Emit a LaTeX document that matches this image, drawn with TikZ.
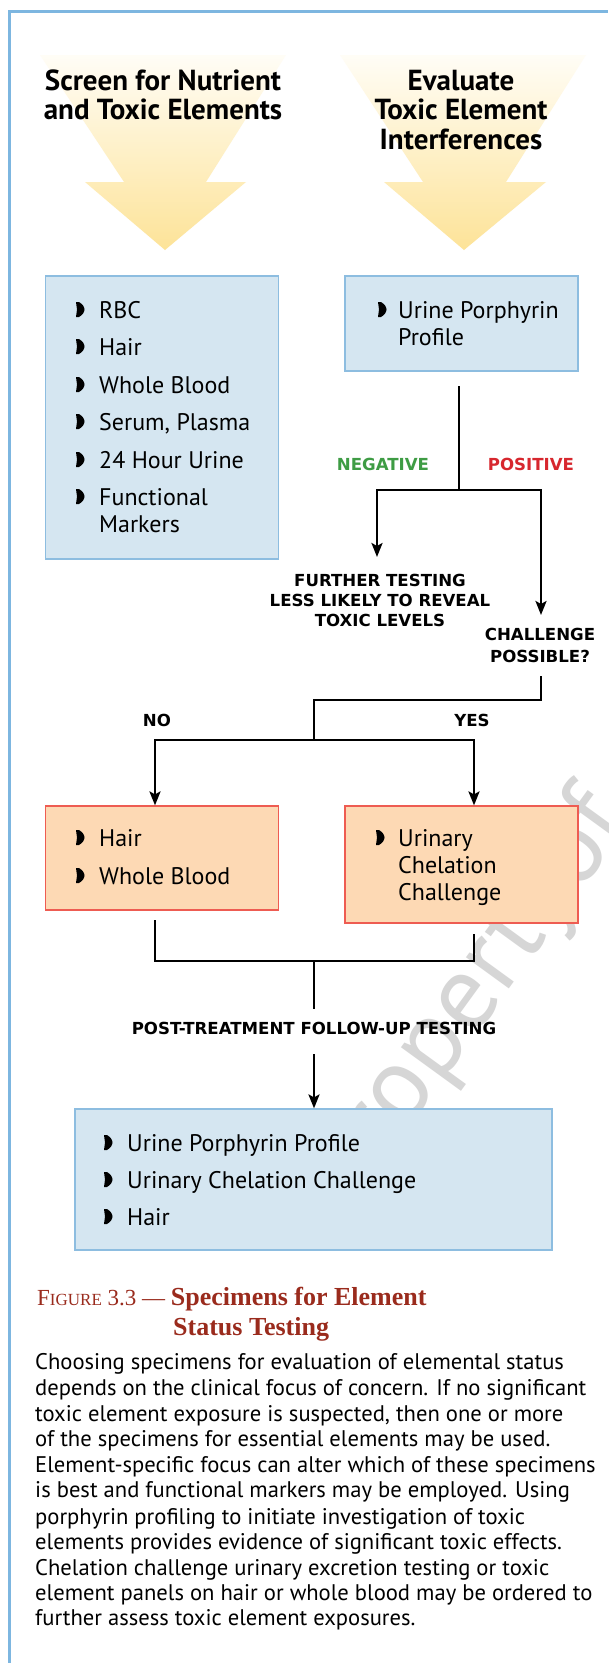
\documentclass[tikz,border=0pt]{standalone}
\usepackage{fontspec}
\setmainfont{PT Sans}
\newfontfamily\capfont{Liberation Serif}
\newfontfamily\heavyfont{DejaVu Sans}
\usetikzlibrary{arrows.meta,calc}
\definecolor{frameblue}{HTML}{7DB6E0}
\definecolor{boxblue}{HTML}{D5E6F1}
\definecolor{boxblueline}{HTML}{8DBDE0}
\definecolor{boxor}{HTML}{FDD9B4}
\definecolor{boxorline}{HTML}{EE5C52}
\definecolor{arryel}{HTML}{FDE398}
\definecolor{arrtop}{HTML}{FFFDF6}
\definecolor{neggreen}{HTML}{3E9C44}
\definecolor{posred}{HTML}{D7272E}
\definecolor{capred}{HTML}{9A2B1D}
\definecolor{wmgray}{HTML}{D6D6D6}
\tikzset{
  bul/.pic={\fill (0,-7.5) -- (3,-7.5) .. controls (6.5,-5.5) and (8.5,-2.5) .. (8.5,0) .. controls (8.5,2.5) and (6.5,5.5) .. (3,7.5) -- (0,7.5) -- (1,0) -- cycle;},
  bluebox/.style={draw=boxblueline, fill=boxblue, line width=1.2pt, inner sep=0pt},
  orbox/.style={draw=boxorline, fill=boxor, line width=1.2pt, inner sep=0pt},
  item/.style={anchor=base west, inner sep=0pt, font=\fontsize{24}{28}\selectfont},
  head/.style={anchor=base, inner sep=0pt, font=\bfseries\fontsize{29}{32}\selectfont},
  lab/.style={anchor=base, inner sep=0pt, font=\heavyfont\bfseries\fontsize{16.6}{19}\selectfont},
  conn/.style={line width=2.4pt, line cap=rect},
  arr/.style={line width=2.4pt, -{Stealth[length=14pt,width=11pt,inset=3pt]}},
  para/.style={anchor=base west, inner sep=0pt, font=\fontsize{22.6}{25}\selectfont},
}
\begin{document}
\begin{tikzpicture}[x=1pt,y=-1pt]
\useasboundingbox (0,0) rectangle (608,1663);
\fill[white] (0,0) rectangle (608,1663);
% watermark
\node[anchor=base west, rotate=54, text=wmgray, inner sep=0pt, font=\fontsize{106}{110}\selectfont] (wm) at (352,1206) {Property\hspace{0.02em}of};
% frame
\draw[frameblue, line width=3pt] (9.5,1663) -- (9.5,11.5) -- (608,11.5);
% yellow arrows
\shade[top color=arrtop, bottom color=arryel]
  (40,55) -- (286,55) -- (206,182) -- (246,182) -- (165,250) -- (85,182) -- (124,182) -- cycle;
\shade[top color=arrtop, bottom color=arryel]
  (340,55) -- (586,55) -- (506,182) -- (546,182) -- (464,250) -- (384,182) -- (423,182) -- cycle;
% headings
\node[head] (hl1) at (163,90) {Screen for Nutrient};
\node[head] (hl2) at (163,119) {and Toxic Elements};
\node[head] (hr1) at (461,90) {Evaluate};
\node[head] (hr2) at (461,119) {Toxic Element};
\node[head] (hr3) at (461,149) {Interferences};
% boxes
\node[bluebox, minimum width=233pt, minimum height=283pt] (bx1) at (162.3,417.5) {};
\node[bluebox, minimum width=233pt, minimum height=95pt] (bx2) at (461.5,323.5) {};
\node[orbox, minimum width=233pt, minimum height=104pt] (ob1) at (162.3,858) {};
\node[orbox, minimum width=233pt, minimum height=117pt] (ob2) at (461.5,864.5) {};
\node[bluebox, minimum width=477pt, minimum height=141pt] (bx3) at (313.5,1179.5) {};
% left box items
\foreach \y/\t [count=\i] in {318/RBC, 355/Hair, 393/Whole Blood, 430/{Serum, Plasma}, 468/24 Hour Urine, 505/Functional}{
  \pic at (76,\y-8.5) {bul};
  \node[item] (a\i) at (99,\y) {\t};
}
\node[item] (a7) at (99,532) {Markers};
% right box
\pic at (378,309.5) {bul};
\node[item] (b1) at (398,318) {Urine Porphyrin};
\node[item] (b2) at (398,345) {Profile};
% orange left
\pic at (76,837.5) {bul};
\node[item] (c1) at (99,846) {Hair};
\pic at (76,875.5) {bul};
\node[item] (c2) at (99,884) {Whole Blood};
% orange right
\pic at (376,837.5) {bul};
\node[item] (d1) at (398,846) {Urinary};
\node[item] (d2) at (398,873) {Chelation};
\node[item] (d3) at (398,900) {Challenge};
% bottom box
\pic at (104,1142.5) {bul};
\node[item] (e1) at (127,1151) {Urine Porphyrin Profile};
\pic at (104,1179.5) {bul};
\node[item] (e2) at (127,1188) {Urinary Chelation Challenge};
\pic at (104,1216.5) {bul};
\node[item] (e3) at (127,1225) {Hair};
% labels
\node[lab, text=neggreen] (neg) at (383,470) {NEGATIVE};
\node[lab, text=posred] (pos) at (531,470) {POSITIVE};
\node[lab] (fu1) at (380,586) {FURTHER TESTING};
\node[lab] (fu2) at (380,606) {LESS LIKELY TO REVEAL};
\node[lab] (fu3) at (380,626) {TOXIC LEVELS};
\node[lab] (ch1) at (540,640) {CHALLENGE};
\node[lab] (ch2) at (540,662) {POSSIBLE?};
\node[lab] (no) at (157,726) {NO};
\node[lab] (yes) at (472,726) {YES};
\node[lab] (post) at (314,1034) {POST-TREATMENT FOLLOW-UP TESTING};
% connectors
\coordinate (t1) at (459,387);
\coordinate (s1) at (459,490);
\coordinate (sl) at (377,490);
\coordinate (sr) at (541,490);
\draw[conn] (t1) -- (s1);
\draw[conn] (sl) -- (sr);
\draw[arr] (sl) -- (377,557) coordinate (fuTip);
\draw[arr] (sr) -- (541,615) coordinate (chTip);
\coordinate (c0) at (541,677);
\coordinate (cm) at (314,700);
\draw[conn] (c0) |- (cm) -- (314,740) coordinate (cs);
\draw[conn] (155,740) coordinate (cl) -- (474,740) coordinate (cr);
\draw[arr] (cl) -- (ob1.north -| cl);
\draw[arr] (cr) -- (ob2.north -| cr);
\coordinate (bl) at (155,921);
\coordinate (br) at (474,935);
\draw[conn] (bl) |- (314,961) coordinate (bm) -| (br);
\draw[conn] (bm) -- (314,1008);
\draw[arr] (314,1054) coordinate (pa) -- (bx3.north -| pa);
% caption
\node[anchor=base west, inner sep=0pt, text=capred, font=\capfont] (cap1) at (37,1305)
  {\fontsize{23}{26}\selectfont F{\fontsize{17}{20}\selectfont IGURE} 3.3 — {\bfseries\fontsize{26}{30}\selectfont Specimens for Element}};
\node[anchor=base west, inner sep=0pt, text=capred, font=\capfont\bfseries\fontsize{26}{30}\selectfont] (cap2) at (173,1335) {Status Testing};
% paragraph
\foreach \y/\t [count=\i] in {
 1369/{Choosing specimens for evaluation of elemental status},
 1395/{depends on the clinical focus of concern. If no significant},
 1421/{toxic element exposure is suspected, then one or more},
 1446/{of the specimens for essential elements may be used.},
 1472/{Element-specific focus can alter which of these specimens},
 1497/{is best and functional markers may be employed. Using},
 1524/{porphyrin profiling to initiate investigation of toxic},
 1549/{elements provides evidence of significant toxic effects.},
 1575/{Chelation challenge urinary excretion testing or toxic},
 1600/{element panels on hair or whole blood may be ordered to},
 1625/{further assess toxic element exposures.}}{
  \node[para] (p\i) at (35,\y) {\t};
}
\end{tikzpicture}
\end{document}
